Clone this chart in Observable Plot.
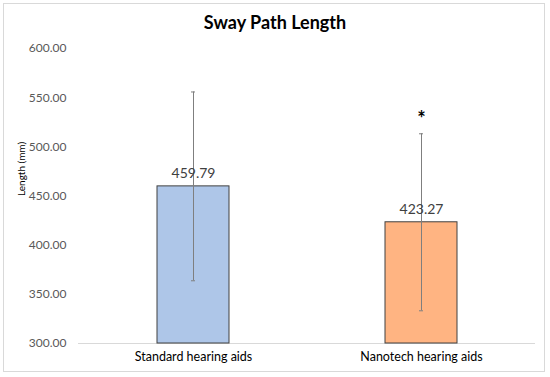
<!DOCTYPE html>
<html><head><meta charset="utf-8">
<script src="https://cdn.jsdelivr.net/npm/d3@7"></script>
<script src="https://cdn.jsdelivr.net/npm/@observablehq/plot@0.6"></script>
<style>
html,body{margin:0;padding:0;background:#fff;}
#wrap{position:relative;width:550px;height:377px;font-family:Lato,"Open Sans",sans-serif;}
#frame{position:absolute;left:3px;top:3px;width:542px;height:369px;border:1px solid #d9d9d9;box-sizing:border-box;pointer-events:none;}
#title{position:absolute;left:0;width:550px;top:11px;text-align:center;font-size:18px;font-weight:bold;color:#000;}
#plot{position:absolute;left:0;top:0;}
</style></head>
<body><div id="wrap"><div id="plot"></div><div id="title">Sway Path Length</div><div id="frame"></div></div>
<script>
const categories = ["Standard hearing aids", "Nanotech hearing aids"];
const means = [459.79, 423.27];
const sds = [96, 90];
const colors = ["#aec6e8", "#ffb482"];
const significance = ["", "*"];
const yTicks = [300, 350, 400, 450, 500, 550, 600];

const data = categories.map((c, i) => ({cat: c, mean: means[i], sd: sds[i], color: colors[i], sig: significance[i]}));

const chart = Plot.plot({
  width: 550, height: 377,
  marginTop: 48, marginBottom: 34, marginLeft: 78, marginRight: 15,
  style: {fontFamily: "Lato, 'Open Sans', sans-serif", background: "transparent"},
  x: {domain: categories, padding: 0, label: null},
  y: {domain: [300, 600], label: null},
  marks: [
    Plot.ruleY([300], {stroke: "#d9d9d9", strokeWidth: 1}),
    Plot.barY(data, {x: "cat", y1: 300, y2: "mean", fill: "color", stroke: "#404040", strokeWidth: 1, insetLeft: 78, insetRight: 78}),
    Plot.ruleX(data, {x: "cat", y1: d => d.mean - d.sd, y2: d => d.mean + d.sd, stroke: "#7f7f7f", strokeWidth: 1}),
    Plot.tickY(data, {x: "cat", y: d => d.mean + d.sd, stroke: "#7f7f7f", insetLeft: 112, insetRight: 112}),
    Plot.tickY(data, {x: "cat", y: d => d.mean - d.sd, stroke: "#7f7f7f", insetLeft: 112, insetRight: 112}),
    Plot.text(data, {x: "cat", y: "mean", text: d => d.mean.toFixed(2), dy: -13, fontSize: 14, fill: "#404040"}),
    Plot.text(data, {x: "cat", y: d => d.mean + d.sd, text: "sig", dy: -14, fontSize: 20, fontWeight: "bold", fill: "#000"}),
    Plot.axisY({ticks: yTicks, tickFormat: d => d.toFixed(2), tickSize: 0, tickPadding: 12, fontSize: 12, fill: "#595959", label: null}),
    Plot.axisX({tickSize: 0, tickPadding: 9, fontSize: 12.5, fill: "#000", label: null}),
    Plot.text(["Length (mm)"], {frameAnchor: "left", dx: -57, rotate: -90, fontSize: 10, fill: "#000"})
  ]
});
document.getElementById("plot").appendChild(chart);
</script></body></html>
